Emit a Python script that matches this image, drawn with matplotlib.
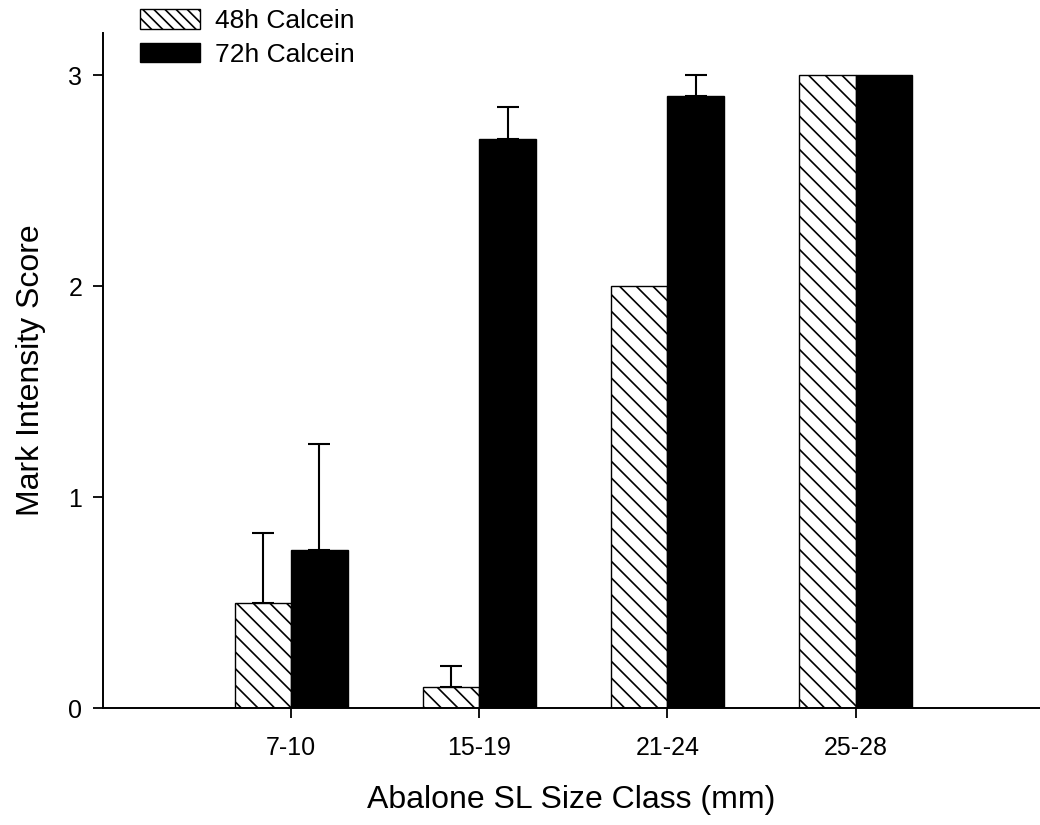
import matplotlib.pyplot as plt
import numpy as np
from matplotlib.patches import Patch

plt.rcParams['font.family'] = ['Liberation Sans', 'DejaVu Sans']
plt.rcParams['hatch.linewidth'] = 1.2

# data
size_class = ['7-10', '15-19', '21-24', '25-28']
calc48 = [0.5, 0.1, 2.0, 3.0]
calc48_err = [0.33, 0.1, 0.0, 0.0]
calc72 = [0.75, 2.7, 2.9, 3.0]
calc72_err = [0.5, 0.15, 0.1, 0.0]

fig = plt.figure(figsize=(10.4, 8.25), dpi=100)
ax = fig.add_axes([0.099, 0.1418, 0.901, 0.818])

x = np.arange(1, len(size_class) + 1)
w = 0.3

ax.bar(x - w / 2, calc48, w, color='white', edgecolor='black',
       hatch='\\\\', linewidth=1.0, zorder=2)
ax.bar(x + w / 2, calc72, w, color='black', edgecolor='black',
       linewidth=1.0, zorder=2)

# only upper error bars, skip zero ones
for xs, ys, es in [(x - w / 2, calc48, calc48_err), (x + w / 2, calc72, calc72_err)]:
    ys = np.array(ys)
    es = np.array(es)
    m = es > 0
    ax.errorbar(xs[m], ys[m], yerr=[np.zeros(m.sum()), es[m]], fmt='none',
                ecolor='black', elinewidth=1.5, capsize=8, capthick=1.5, zorder=1)

ax.set_xlim(0, 4.98)
ax.set_ylim(0, 3.2)
ax.set_xticks(x)
ax.set_xticklabels(size_class)
ax.set_yticks([0, 1, 2, 3])
ax.tick_params(axis='both', direction='out', length=7, width=1.3, labelsize=18, pad=8)
ax.tick_params(axis='x', pad=13)

for s in ['top', 'right']:
    ax.spines[s].set_visible(False)
for s in ['left', 'bottom']:
    ax.spines[s].set_linewidth(1.4)

ax.set_xlabel('Abalone SL Size Class (mm)', fontsize=23, labelpad=18)
ax.set_ylabel('Mark Intensity Score', fontsize=23, labelpad=16)

handles = [Patch(facecolor='white', edgecolor='black', hatch='\\\\\\', label='48h Calcein'),
           Patch(facecolor='black', edgecolor='black', label='72h Calcein')]
fig.legend(handles=handles, loc='upper left', bbox_to_anchor=(0.1346, 0.989),
           frameon=False, fontsize=19, handlelength=2.27, handleheight=0.76,
           handletextpad=0.57, labelspacing=0.36, borderpad=0.0, borderaxespad=0.0)

fig.savefig('out.png', dpi=100)
